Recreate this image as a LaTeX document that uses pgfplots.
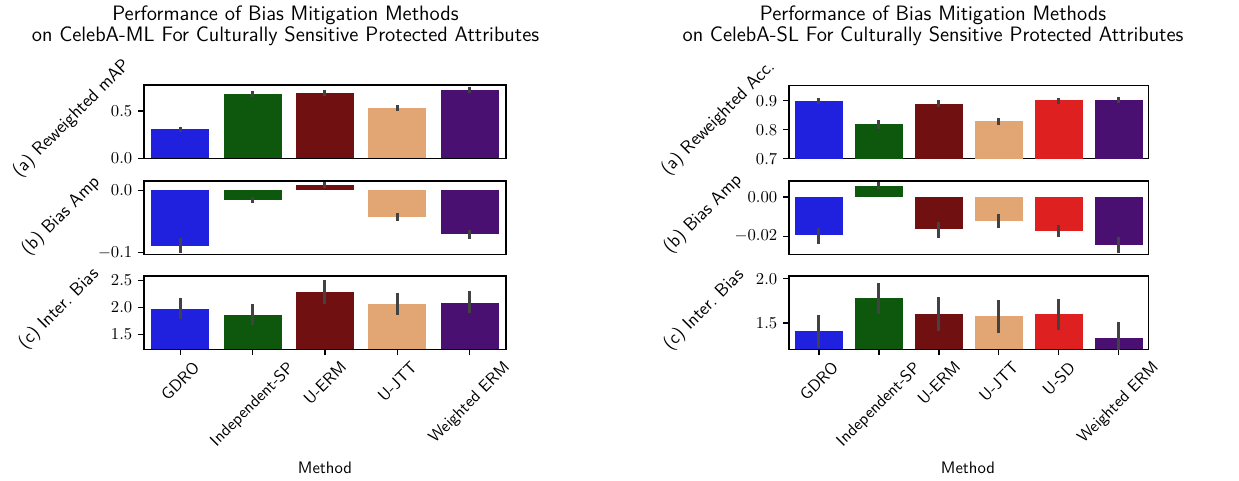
\documentclass[border=0pt]{standalone}
\usepackage{pgfplots}
\pgfplotsset{compat=1.18}
\usepackage{graphicx}

\definecolor{cGDRO}{RGB}{32,32,223}
\definecolor{cIND}{RGB}{13,88,13}
\definecolor{cUERM}{RGB}{112,16,16}
\definecolor{cUJTT}{RGB}{225,166,115}
\definecolor{cUSD}{RGB}{223,32,32}
\definecolor{cWERM}{RGB}{73,16,114}
\definecolor{errgray}{RGB}{66,66,66}

\pgfplotsset{
  panel/.style={
    scale only axis, anchor=north west,
    height=44pt,
    axis line style={line width=0.8pt, black},
    every tick/.style={line width=0.8pt, black},
    major tick length=3.5pt,
    tick align=outside,
    tick pos=left,
    xtick=\empty,
    ybar, bar width=0.8,
    yticklabel style={font=\fontsize{10}{12}\selectfont},
    scaled y ticks=false,
    /pgf/number format/fixed,
    /pgf/number format/fixed zerofill,
    /pgf/number format/precision=1,
    error bars/y dir=both,
    error bars/y explicit,
    error bars/error mark=none,
    error bars/error bar style={draw=errgray, line width=1.8pt},
  },
  leftpanel/.style={panel, width=217.2pt, xmin=-0.5, xmax=4.5},
  rightpanel/.style={panel, width=215.8pt, xmin=-0.5, xmax=5.5},
  methodlabels/.style={
    xticklabel style={anchor=north, inner sep=0pt, yshift=-3pt,
      font=\sffamily\fontsize{10}{12}\selectfont},
  },
  bar/.style={fill=#1, draw=none, bar shift=0pt},
}

\begin{document}
\begin{tikzpicture}
\path[use as bounding box] (0,0) rectangle (743.4pt,-288.6pt);

% ---------------- CelebA-ML ----------------
\node[anchor=north, align=center, inner sep=0pt,
      font=\sffamily\fontsize{12.5}{10.4}\selectfont] at (171.3pt,-3.2pt)
  {Performance of Bias Mitigation Methods\\on CelebA-ML For Culturally Sensitive Protected Attributes};

\begin{axis}[leftpanel, at={(86.4pt,-51pt)},
  ymin=0, ymax=0.775, ytick={0,0.5}]
\addplot[bar=cGDRO] coordinates {(0,0.310) += (0,0.024) -= (0,0.029)};
\addplot[bar=cIND]  coordinates {(1,0.683) += (0,0.032) -= (0,0.032)};
\addplot[bar=cUERM] coordinates {(2,0.694) += (0,0.028) -= (0,0.032)};
\addplot[bar=cUJTT] coordinates {(3,0.528) += (0,0.035) -= (0,0.028)};
\addplot[bar=cWERM] coordinates {(4,0.722) += (0,0.035) -= (0,0.035)};
\end{axis}

\begin{axis}[leftpanel, at={(86.4pt,-108.6pt)},
  ymin=-0.1027, ymax=0.015, ytick={-0.1,0}]
\addplot[bar=cGDRO] coordinates {(0,-0.0887) += (0,0.0127) -= (0,0.0123)};
\addplot[bar=cIND]  coordinates {(1,-0.0152) += (0,0.0049) -= (0,0.0053)};
\addplot[bar=cUERM] coordinates {(2,0.0086) += (0,0.0049) -= (0,0.0048)};
\addplot[bar=cUJTT] coordinates {(3,-0.0427) += (0,0.0067) -= (0,0.0073)};
\addplot[bar=cWERM] coordinates {(4,-0.0708) += (0,0.0078) -= (0,0.0072)};
\end{axis}

\begin{axis}[leftpanel, methodlabels, at={(86.4pt,-165.6pt)},
  ymin=1.219, ymax=2.579, ytick={1.5,2,2.5},
  xtick={0,...,4},
  xticklabels={\rotatebox{45}{GDRO},\rotatebox{45}{Independent-SP},
    \rotatebox{45}{U-ERM},\rotatebox{45}{U-JTT},\rotatebox{45}{Weighted ERM}}]
\addplot[bar=cGDRO] coordinates {(0,1.976) += (0,0.202) -= (0,0.200)};
\addplot[bar=cIND]  coordinates {(1,1.847) += (0,0.208) -= (0,0.184)};
\addplot[bar=cUERM] coordinates {(2,2.283) += (0,0.217) -= (0,0.223)};
\addplot[bar=cUJTT] coordinates {(3,2.062) += (0,0.195) -= (0,0.215)};
\addplot[bar=cWERM] coordinates {(4,2.086) += (0,0.220) -= (0,0.196)};
\end{axis}

\begin{scope}[every node/.style={rotate=45, anchor=center,
    font=\sffamily\fontsize{11}{13}\selectfont}]
  \node at (43.0pt,-71pt) {(a) Reweighted mAP};
  \node at (36.6pt,-129.6pt) {(b) Bias Amp};
  \node at (35.4pt,-185.4pt) {(c) Inter.\ Bias};
\end{scope}
\node[anchor=base, font=\sffamily\fontsize{10}{12}\selectfont] at (195pt,-283.8pt) {Method};

% ---------------- CelebA-SL ----------------
\node[anchor=north, align=center, inner sep=0pt,
      font=\sffamily\fontsize{12.5}{10.4}\selectfont] at (559.8pt,-3.2pt)
  {Performance of Bias Mitigation Methods\\on CelebA-SL For Culturally Sensitive Protected Attributes};

\begin{axis}[rightpanel, at={(473.4pt,-51.2pt)},
  ymin=0.7, ymax=0.953, ytick={0.7,0.8,0.9}]
\addplot[bar=cGDRO] coordinates {(0,0.899) += (0,0.010) -= (0,0.011)};
\addplot[bar=cIND]  coordinates {(1,0.819) += (0,0.015) -= (0,0.016)};
\addplot[bar=cUERM] coordinates {(2,0.890) += (0,0.011) -= (0,0.013)};
\addplot[bar=cUJTT] coordinates {(3,0.830) += (0,0.012) -= (0,0.013)};
\addplot[bar=cUSD]  coordinates {(4,0.901) += (0,0.010) -= (0,0.011)};
\addplot[bar=cWERM] coordinates {(5,0.902) += (0,0.012) -= (0,0.010)};
\end{axis}

\begin{axis}[rightpanel, at={(473.4pt,-108.6pt)},
  ymin=-0.0292, ymax=0.0081, ytick={-0.02,0},
  /pgf/number format/precision=2]
\addplot[bar=cGDRO] coordinates {(0,-0.0193) += (0,0.0037) -= (0,0.0046)};
\addplot[bar=cIND]  coordinates {(1,0.0056) += (0,0.0022) -= (0,0.0015)};
\addplot[bar=cUERM] coordinates {(2,-0.0164) += (0,0.0037) -= (0,0.0045)};
\addplot[bar=cUJTT] coordinates {(3,-0.0124) += (0,0.0036) -= (0,0.0032)};
\addplot[bar=cUSD]  coordinates {(4,-0.0173) += (0,0.0032) -= (0,0.0031)};
\addplot[bar=cWERM] coordinates {(5,-0.0246) += (0,0.0042) -= (0,0.0041)};
\end{axis}

\begin{axis}[rightpanel, methodlabels, at={(473.4pt,-165.6pt)},
  ymin=1.203, ymax=2.03, ytick={1.5,2},
  xtick={0,...,5},
  xticklabels={\rotatebox{45}{GDRO},\rotatebox{45}{Independent-SP},
    \rotatebox{45}{U-ERM},\rotatebox{45}{U-JTT},\rotatebox{45}{U-SD},
    \rotatebox{45}{Weighted ERM}}]
\addplot[bar=cGDRO] coordinates {(0,1.406) += (0,0.184) -= (0,0.186)};
\addplot[bar=cIND]  coordinates {(1,1.779) += (0,0.171) -= (0,0.179)};
\addplot[bar=cUERM] coordinates {(2,1.598) += (0,0.192) -= (0,0.192)};
\addplot[bar=cUJTT] coordinates {(3,1.575) += (0,0.181) -= (0,0.188)};
\addplot[bar=cUSD]  coordinates {(4,1.598) += (0,0.172) -= (0,0.178)};
\addplot[bar=cWERM] coordinates {(5,1.330) += (0,0.185) -= (0,0.150)};
\end{axis}

\begin{scope}[every node/.style={rotate=45, anchor=center,
    font=\sffamily\fontsize{11}{13}\selectfont}]
  \node at (431.0pt,-71pt) {(a) Reweighted Acc.};
  \node at (421.8pt,-128.4pt) {(b) Bias Amp};
  \node at (422.4pt,-186pt) {(c) Inter.\ Bias};
\end{scope}
\node[anchor=base, font=\sffamily\fontsize{10}{12}\selectfont] at (580.8pt,-283.8pt) {Method};
\end{tikzpicture}
\end{document}
